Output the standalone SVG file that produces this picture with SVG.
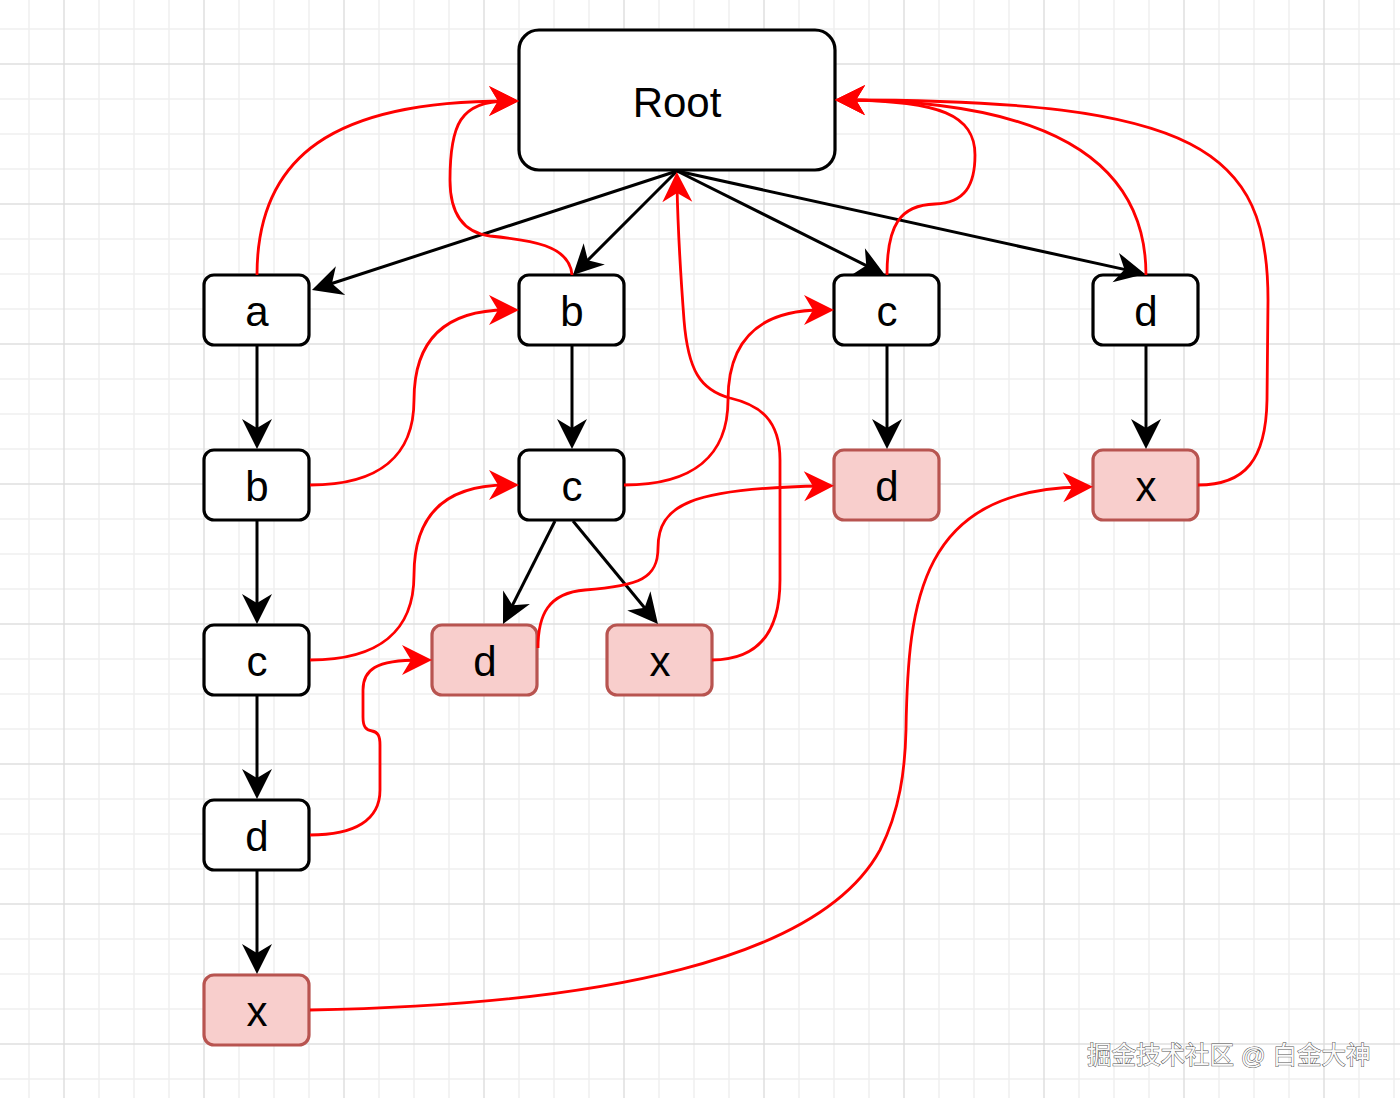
<svg xmlns="http://www.w3.org/2000/svg" width="1400" height="1098" viewBox="0 0 1400 1098">
<style>
.minor{stroke:#f0f0f0;stroke-width:1.5;fill:none}
.major{stroke:#dfdfdf;stroke-width:1.5;fill:none}
.box{fill:#ffffff;stroke:#000000;stroke-width:3.2}
.hit{fill:#f8cecc;stroke:#b85450;stroke-width:3.2}
.lbl{font-family:"Liberation Sans",Arial,sans-serif;font-size:42px;fill:#000000;text-anchor:middle}
.blk{fill:none;stroke:#000000;stroke-width:3;marker-end:url(#ab)}
.red{fill:none;stroke:#ff0000;stroke-width:2.8;marker-end:url(#ar)}
.wm{font-family:"Liberation Sans","Noto Sans CJK SC",sans-serif;font-size:24.5px;fill:#fafafa;stroke:#555555;stroke-width:1;paint-order:stroke}
</style>
<defs>
<marker id="ab" markerUnits="userSpaceOnUse" orient="auto" refX="-12" refY="0" markerWidth="40" markerHeight="40" overflow="visible">
<path d="M0,0 L-30,-15 L-21,0 L-30,15 Z" fill="#000000"/>
</marker>
<marker id="ar" markerUnits="userSpaceOnUse" orient="auto" refX="-12" refY="0" markerWidth="40" markerHeight="40" overflow="visible">
<path d="M0,0 L-30,-15 L-21,0 L-30,15 Z" fill="#ff0000"/>
</marker>
</defs>
<rect x="0" y="0" width="1400" height="1098" fill="#ffffff"/>
<g id="grid">
<path class="minor" d="M29,0V1098M99,0V1098M134,0V1098M169,0V1098M239,0V1098M274,0V1098M309,0V1098M379,0V1098M414,0V1098M449,0V1098M519,0V1098M554,0V1098M589,0V1098M659,0V1098M694,0V1098M729,0V1098M799,0V1098M834,0V1098M869,0V1098M939,0V1098M974,0V1098M1009,0V1098M1079,0V1098M1114,0V1098M1149,0V1098M1219,0V1098M1254,0V1098M1289,0V1098M1359,0V1098M1394,0V1098M0,29H1400M0,99H1400M0,134H1400M0,169H1400M0,239H1400M0,274H1400M0,309H1400M0,379H1400M0,414H1400M0,449H1400M0,519H1400M0,554H1400M0,589H1400M0,659H1400M0,694H1400M0,729H1400M0,799H1400M0,834H1400M0,869H1400M0,939H1400M0,974H1400M0,1009H1400M0,1079H1400"/>
<path class="major" d="M64,0V1098M204,0V1098M344,0V1098M484,0V1098M624,0V1098M764,0V1098M904,0V1098M1044,0V1098M1184,0V1098M1324,0V1098M0,64H1400M0,204H1400M0,344H1400M0,484H1400M0,624H1400M0,764H1400M0,904H1400M0,1044H1400"/>
</g>
<g id="node-root"><rect class="box" x="519" y="30" width="316" height="140" rx="20"/><text class="lbl" x="677" y="117">Root</text></g>
<g id="node-a1"><rect class="box" x="204" y="275" width="105" height="70" rx="10"/><text class="lbl" x="257" y="326">a</text></g>
<g id="node-b1"><rect class="box" x="204" y="450" width="105" height="70" rx="10"/><text class="lbl" x="257" y="501">b</text></g>
<g id="node-c1"><rect class="box" x="204" y="625" width="105" height="70" rx="10"/><text class="lbl" x="257" y="676">c</text></g>
<g id="node-d1"><rect class="box" x="204" y="800" width="105" height="70" rx="10"/><text class="lbl" x="257" y="851">d</text></g>
<g id="node-x1"><rect class="hit" x="204" y="975" width="105" height="70" rx="10"/><text class="lbl" x="257" y="1026">x</text></g>
<g id="node-b2"><rect class="box" x="519" y="275" width="105" height="70" rx="10"/><text class="lbl" x="572" y="326">b</text></g>
<g id="node-c2"><rect class="box" x="519" y="450" width="105" height="70" rx="10"/><text class="lbl" x="572" y="501">c</text></g>
<g id="node-d2"><rect class="hit" x="432" y="625" width="105" height="70" rx="10"/><text class="lbl" x="485" y="676">d</text></g>
<g id="node-x2"><rect class="hit" x="607" y="625" width="105" height="70" rx="10"/><text class="lbl" x="660" y="676">x</text></g>
<g id="node-c3"><rect class="box" x="834" y="275" width="105" height="70" rx="10"/><text class="lbl" x="887" y="326">c</text></g>
<g id="node-d3"><rect class="hit" x="834" y="450" width="105" height="70" rx="10"/><text class="lbl" x="887" y="501">d</text></g>
<g id="node-d4"><rect class="box" x="1093" y="275" width="105" height="70" rx="10"/><text class="lbl" x="1146" y="326">d</text></g>
<g id="node-x4"><rect class="hit" x="1093" y="450" width="105" height="70" rx="10"/><text class="lbl" x="1146" y="501">x</text></g>
<g id="connectors">
<path class="blk" d="M677,171 L323.4,286.2"/>
<path class="blk" d="M677,171 L581.5,266.5"/>
<path class="blk" d="M677,171 L874.3,269.6"/>
<path class="blk" d="M677,171 L1133.3,271.4"/>
<path class="blk" d="M257,345 V437"/>
<path class="blk" d="M257,520 V612"/>
<path class="blk" d="M257,695 V787"/>
<path class="blk" d="M257,870 V962"/>
<path class="blk" d="M572,345 V437"/>
<path class="blk" d="M555,521 L508.4,613.3"/>
<path class="blk" d="M573,521 L650.3,614.8"/>
<path class="blk" d="M887,345 V437"/>
<path class="blk" d="M1146,345 V437"/>
<path class="red" d="M257,275 C257,155 335,101 507,101"/>
<path class="red" d="M572,275 C570,245 530,240 490,236 C460,232 450,210 450,180 C450,125 460,101 507,101"/>
<path class="red" d="M310,485 C380,485 414,455 414,400 C414,345 440,310 507,310"/>
<path class="red" d="M310,660 C380,660 414,630 414,575 C414,520 440,485 507,485"/>
<path class="red" d="M624,485 C694,485 728,455 728,400 C728,345 754,310 822,310"/>
<path class="red" d="M310,835 C355,835 380,820 380,790 L380,745 C380,736 378,732 372,731 C366,730 363,727 363,717 L363,690 C363,670 375,660 420,660"/>
<path class="red" d="M538,648 C538,615 548,593 585,590 C640,586 658,578 658,548 C658,505 690,488 822,486"/>
<path class="red" d="M712,660 C760,660 780,630 780,580 L780,460 C780,420 760,405 730,398 C700,390 688,370 684,320 C681,280 678,240 677,184"/>
<path class="red" d="M887,275 C887,225 900,205 935,204 C965,203 975,185 975,155 C975,115 940,101 847,100"/>
<path class="red" d="M1146,275 C1146,150 1030,101 847,100"/>
<path class="red" d="M1198,485 C1245,485 1266,460 1267,400 L1268,300 C1268,150 1200,100 847,100"/>
<path class="red" d="M310,1010 C600,1005 820,960 880,850 C900,810 905,770 906,730 C908,600 920,490 1081,487"/>
</g>
<text class="wm" x="1087" y="1064">掘金技术社区 @ 白金大神</text>
</svg>
